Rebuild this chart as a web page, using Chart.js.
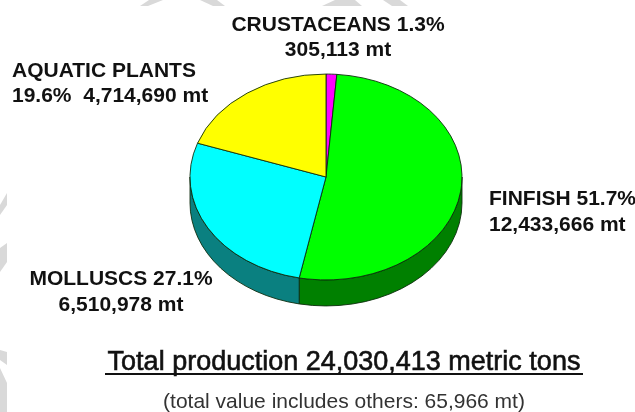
<!DOCTYPE html>
<html>
<head>
<meta charset="utf-8">
<style>
html, body { margin: 0; padding: 0; background: #fff; }
#wrap { width: 635px; height: 412px; }
</style>
<script src="https://cdn.jsdelivr.net/npm/chart.js@4/dist/chart.umd.min.js"></script>
</head>
<body>
<div id="wrap"><canvas id="grafico" width="635" height="412"></canvas></div>
<script>
// Datos del gráfico
const categorias = ['CRUSTACEANS', 'FINFISH', 'MOLLUSCS', 'AQUATIC PLANTS'];
const toneladas = [305113, 12433666, 6510978, 4714690];
const colores = ['#ff00ff', '#00ff00', '#00ffff', '#ffff00'];
const coloresLado = ['#800080', '#008000', '#0a8080', '#808000'];
const tituloTotal = 'Total production 24,030,413 metric tons';
const notaTotal = '(total value includes others: 65,966 mt)';

// Aplastado de la elipse y altura del lateral
const aplastado = 0.757;
const grosor = 26;

// Marca de agua gris que asoma por los bordes de la imagen
const marcaAgua = [
    [[140, 6], [148, 6], [163, 0], [149, 0]],
    [[200, 0], [217, 0], [225, 6], [213, 6]],
    [[322, 6], [335, 0], [355, 0], [362, 6]],
    [[383, 0], [400, 0], [408, 6], [392, 6]],
    [[7, 193], [7, 205], [0, 215], [0, 205]],
    [[7, 243], [7, 262], [0, 272], [0, 248]],
    [[0, 350], [7, 352], [7, 365], [0, 360]],
    [[0, 368], [7, 383], [7, 412], [0, 412]]
];

const fondo = {
    id: 'fondo',
    beforeDraw(chart) {
        const ctx = chart.ctx;
        ctx.save();
        ctx.fillStyle = '#d9d9d9';
        marcaAgua.forEach(forma => {
            ctx.beginPath();
            forma.forEach(([x, y]) => ctx.lineTo(x, y));
            ctx.closePath();
            ctx.fill();
        });
        ctx.restore();
    }
};

const pie3d = {
    id: 'pie3d',
    beforeDatasetsDraw(chart) {
        const ctx = chart.ctx;
        const arcos = chart.getDatasetMeta(0).data;
        const cx = arcos[0].x, cy = arcos[0].y;
        ctx.save();
        ctx.translate(cx, cy);
        ctx.scale(1, aplastado);
        ctx.translate(-cx, -cy);

        // Lateral: solo la mitad delantera de cada porción
        const alto = grosor / aplastado;
        ctx.lineWidth = 1;
        ctx.strokeStyle = '#0b2a0b';
        arcos.forEach((arco, i) => {
            const ini = Math.max(arco.startAngle, 0);
            const fin = Math.min(arco.endAngle, Math.PI);
            if (fin <= ini) return;
            ctx.beginPath();
            ctx.arc(cx, cy, arco.outerRadius, ini, fin);
            ctx.arc(cx, cy + alto, arco.outerRadius, fin, ini, true);
            ctx.closePath();
            ctx.fillStyle = coloresLado[i];
            ctx.fill();
            ctx.stroke();
        });
    },
    afterDatasetsDraw(chart) {
        chart.ctx.restore();
    }
};

const textos = {
    id: 'textos',
    afterDraw(chart) {
        const ctx = chart.ctx;
        ctx.save();
        ctx.fillStyle = '#111';
        ctx.strokeStyle = '#111';
        ctx.textBaseline = 'alphabetic';
        ctx.font = 'bold 21px "Liberation Sans"';

        ctx.textAlign = 'center';
        ctx.fillText('CRUSTACEANS 1.3%', 338, 31);
        ctx.fillText('305,113 mt', 338, 56);
        ctx.fillText('MOLLUSCS 27.1%', 121, 285);
        ctx.fillText('6,510,978 mt', 121, 311);

        ctx.textAlign = 'left';
        ctx.fillText('AQUATIC PLANTS', 12, 77);
        ctx.fillText('19.6%  4,714,690 mt', 12, 102);
        ctx.fillText('FINFISH 51.7%', 489, 205);
        ctx.fillText('12,433,666 mt', 489, 231);

        // El título se ve algo más grueso que una regular
        ctx.textAlign = 'center';
        ctx.font = '27px "Liberation Sans"';
        ctx.lineWidth = 0.6;
        ctx.fillText(tituloTotal, 344, 370);
        ctx.strokeText(tituloTotal, 344, 370);
        ctx.fillRect(105, 373, 478, 2);
        ctx.font = '21px "Liberation Sans"';
        ctx.fillStyle = '#333';
        ctx.fillText(notaTotal, 344, 408);
        ctx.restore();
    }
};

new Chart(document.getElementById('grafico'), {
    type: 'pie',
    data: {
        labels: categorias,
        datasets: [{
            data: toneladas,
            backgroundColor: colores,
            borderColor: '#0b2a0b',
            borderWidth: 1,
            borderAlign: 'center',
            radius: 136
        }]
    },
    options: {
        responsive: false,
        animation: false,
        layout: { padding: { left: 17, right: 0, top: 0, bottom: 58 } },
        plugins: {
            legend: { display: false },
            tooltip: { enabled: false }
        }
    },
    plugins: [fondo, pie3d, textos]
});
</script>
</body>
</html>
